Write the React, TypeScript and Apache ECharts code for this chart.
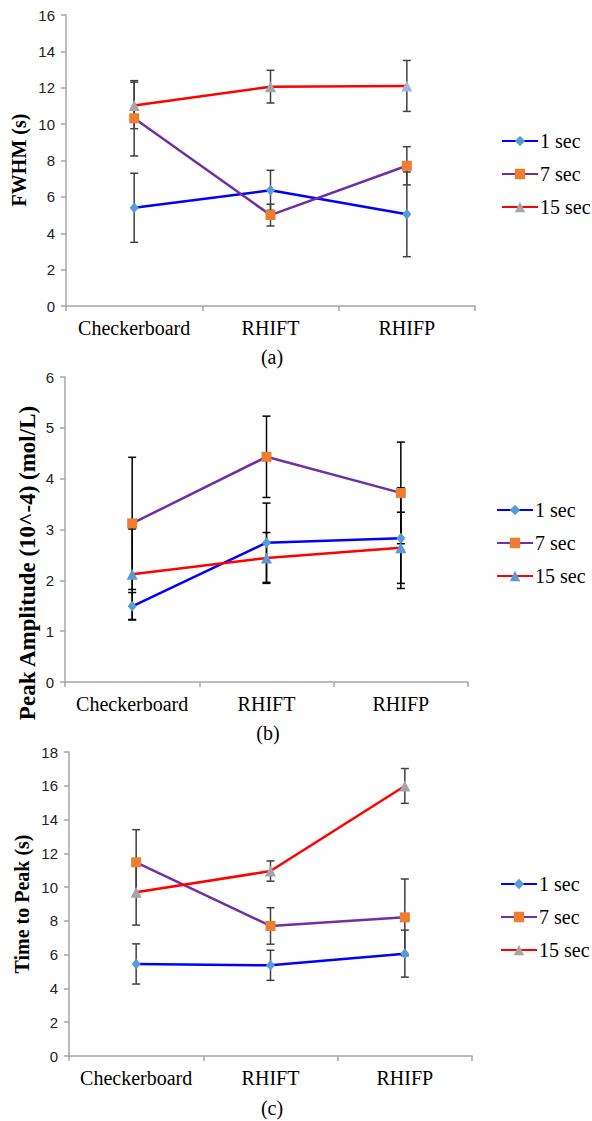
import { useEffect, useRef } from 'react';
import * as echarts from 'echarts';

const categories = ['Checkerboard', 'RHIFT', 'RHIFP'];
const seriesLabels = ['1 sec', '7 sec', '15 sec'];
const panelTags = ['(a)', '(b)', '(c)'];
const axisTitles = ['FWHM (s)', 'Peak Amplitude (10^-4) (mol/L)', 'Time to Peak (s)'];

// (a) FWHM
const fwhm1 = [5.4, 6.36, 5.04];
const fwhm1Err = [1.9, 1.1, 2.33];
const fwhm7 = [10.32, 5.0, 7.71];
const fwhm7Err = [2.07, 0.6, 1.05];
const fwhm15 = [11.03, 12.06, 12.1];
const fwhm15Err = [1.28, 0.9, 1.4];

// (b) Peak amplitude
const amp1 = [1.49, 2.74, 2.83];
const amp1Err = [0.27, 0.78, 0.99];
const amp7 = [3.12, 4.43, 3.72];
const amp7Err = [1.3, 0.8, 1.0];
const amp15 = [2.12, 2.44, 2.64];
const amp15Err = [0.89, 0.5, 0.7];

// (c) Time to peak
const ttp1 = [5.45, 5.37, 6.06];
const ttp1Err = [1.19, 0.89, 1.39];
const ttp7 = [11.47, 7.7, 8.21];
const ttp7Err = [1.93, 1.08, 2.27];
const ttp15 = [9.69, 10.95, 15.99];
const ttp15Err = [1.94, 0.6, 1.03];

const yMax = [16, 6, 18];
const yInterval = [2, 1, 2];

const panelValues = [
  [fwhm1, fwhm7, fwhm15],
  [amp1, amp7, amp15],
  [ttp1, ttp7, ttp15],
];
const panelErrors = [
  [fwhm1Err, fwhm7Err, fwhm15Err],
  [amp1Err, amp7Err, amp15Err],
  [ttp1Err, ttp7Err, ttp15Err],
];

const lineColors = ['#0000FF', '#7030A0', '#FF0000'];
const markerColors = [
  ['#5B9BD5', '#ED7D31', '#A5A5A5'],
  ['#5B9BD5', '#ED7D31', '#5B9BD5'],
  ['#5B9BD5', '#ED7D31', '#A5A5A5'],
];
const symbols = ['diamond', 'rect', 'triangle'];
const symbolSizes = [[9, 11], 10, 11];
const errColors = ['#404040', '#000000', '#404040'];

const grids = [
  { left: 66, top: 15, width: 409, height: 291 },
  { left: 65, top: 377, width: 403, height: 305 },
  { left: 69, top: 752, width: 403, height: 304 },
];
const legendPos = [
  { left: 496, top: 126 },
  { left: 491, top: 495 },
  { left: 495, top: 869 },
];
const titlePos = [
  { x: 19, y: 160, size: 20 },
  { x: 27, y: 563, size: 23 },
  { x: 22, y: 904, size: 20 },
];
const tagPos = [
  { x: 272, y: 357 },
  { x: 268, y: 733 },
  { x: 272, y: 1108 },
];

const serif = 'Liberation Serif';
const sans = 'Liberation Sans';

function buildOption() {
  const series: any[] = [];
  const legends: any[] = [];
  const nameMap: Record<string, string> = {};
  for (let p = 0; p < 3; p++) {
    const names: string[] = [];
    for (let s = 0; s < 3; s++) {
      const name = `p${p}-s${s}`;
      nameMap[name] = seriesLabels[s];
      names.push(name);
      const vals = panelValues[p][s];
      const errs = panelErrors[p][s];
      series.push({
        type: 'custom',
        name: `err-${name}`,
        xAxisIndex: p,
        yAxisIndex: p,
        silent: true,
        z: 1,
        encode: { x: 0, y: [1, 2] },
        data: vals.map((v, i) => [i, v - errs[i], v + errs[i]]),
        renderItem: (_params: any, api: any) => {
          const x = api.value(0);
          const hi = api.coord([x, api.value(2)]);
          const lo = api.coord([x, api.value(1)]);
          const w = 4;
          const style = { stroke: errColors[p], lineWidth: 1.5 };
          return {
            type: 'group',
            children: [
              { type: 'line', shape: { x1: hi[0], y1: hi[1], x2: lo[0], y2: lo[1] }, style },
              { type: 'line', shape: { x1: hi[0] - w, y1: hi[1], x2: hi[0] + w, y2: hi[1] }, style },
              { type: 'line', shape: { x1: lo[0] - w, y1: lo[1], x2: lo[0] + w, y2: lo[1] }, style },
            ],
          };
        },
      });
      series.push({
        type: 'line',
        name,
        xAxisIndex: p,
        yAxisIndex: p,
        z: 3,
        data: vals.map((v, i) => {
          if (p === 0 && s === 2 && i === 2) {
            return { value: v, itemStyle: { color: '#A3B8CC' } };
          }
          return v;
        }),
        symbol: symbols[s],
        symbolSize: symbolSizes[s],
        showAllSymbol: true,
        lineStyle: { color: lineColors[s], width: 2.5 },
        itemStyle: { color: markerColors[p][s] },
      });
    }
    legends.push({
      orient: 'vertical',
      left: legendPos[p].left,
      top: legendPos[p].top,
      itemWidth: 36,
      itemHeight: 13,
      itemGap: 13,
      data: names,
      selectedMode: false,
      formatter: (n: string) => nameMap[n],
      textStyle: { fontFamily: serif, fontSize: 20, color: '#000', lineHeight: 20, padding: [0, 0, 0, -3] },
    });
  }

  const graphics: any[] = [];
  for (let p = 0; p < 3; p++) {
    graphics.push({
      type: 'text',
      x: titlePos[p].x,
      y: titlePos[p].y,
      rotation: Math.PI / 2,
      style: {
        text: axisTitles[p],
        fontFamily: serif,
        fontWeight: 'bold',
        fontSize: titlePos[p].size,
        fill: '#000',
        align: 'center',
        verticalAlign: 'middle',
      },
    });
    graphics.push({
      type: 'text',
      x: tagPos[p].x,
      y: tagPos[p].y,
      style: {
        text: panelTags[p],
        fontFamily: serif,
        fontSize: 20,
        fill: '#000',
        align: 'center',
        verticalAlign: 'middle',
      },
    });
  }

  return {
    animation: false,
    backgroundColor: '#fff',
    grid: grids,
    legend: legends,
    xAxis: grids.map((_g, p) => ({
      type: 'category',
      gridIndex: p,
      data: categories,
      boundaryGap: true,
      axisLine: { lineStyle: { color: '#A6A6A6', width: 1.5 } },
      axisTick: { show: true, length: 5, alignWithLabel: false, lineStyle: { color: '#A6A6A6', width: 1.5 } },
      axisLabel: { interval: 0, hideOverlap: false, fontFamily: serif, fontSize: 20, color: '#000', margin: 12 },
      splitLine: { show: false },
    })),
    yAxis: grids.map((_g, p) => ({
      type: 'value',
      gridIndex: p,
      min: 0,
      max: yMax[p],
      interval: yInterval[p],
      axisLine: { show: true, lineStyle: { color: '#A6A6A6', width: 1.5 } },
      axisTick: { show: true, length: 5, lineStyle: { color: '#A6A6A6', width: 1.5 } },
      axisLabel: { fontFamily: sans, fontSize: 15, color: '#222', margin: 11 },
      splitLine: { show: false },
    })),
    series,
    graphic: graphics,
  };
}

export default function App() {
  const ref = useRef<HTMLDivElement>(null);
  useEffect(() => {
    if (!ref.current) return;
    const chart = echarts.init(ref.current, undefined, { renderer: 'svg' });
    chart.setOption(buildOption() as any);
    return () => chart.dispose();
  }, []);
  return (
    <div
      ref={ref}
      style={{ position: 'absolute', left: 0, top: 0, width: 592, height: 1121, background: '#fff' }}
    />
  );
}
